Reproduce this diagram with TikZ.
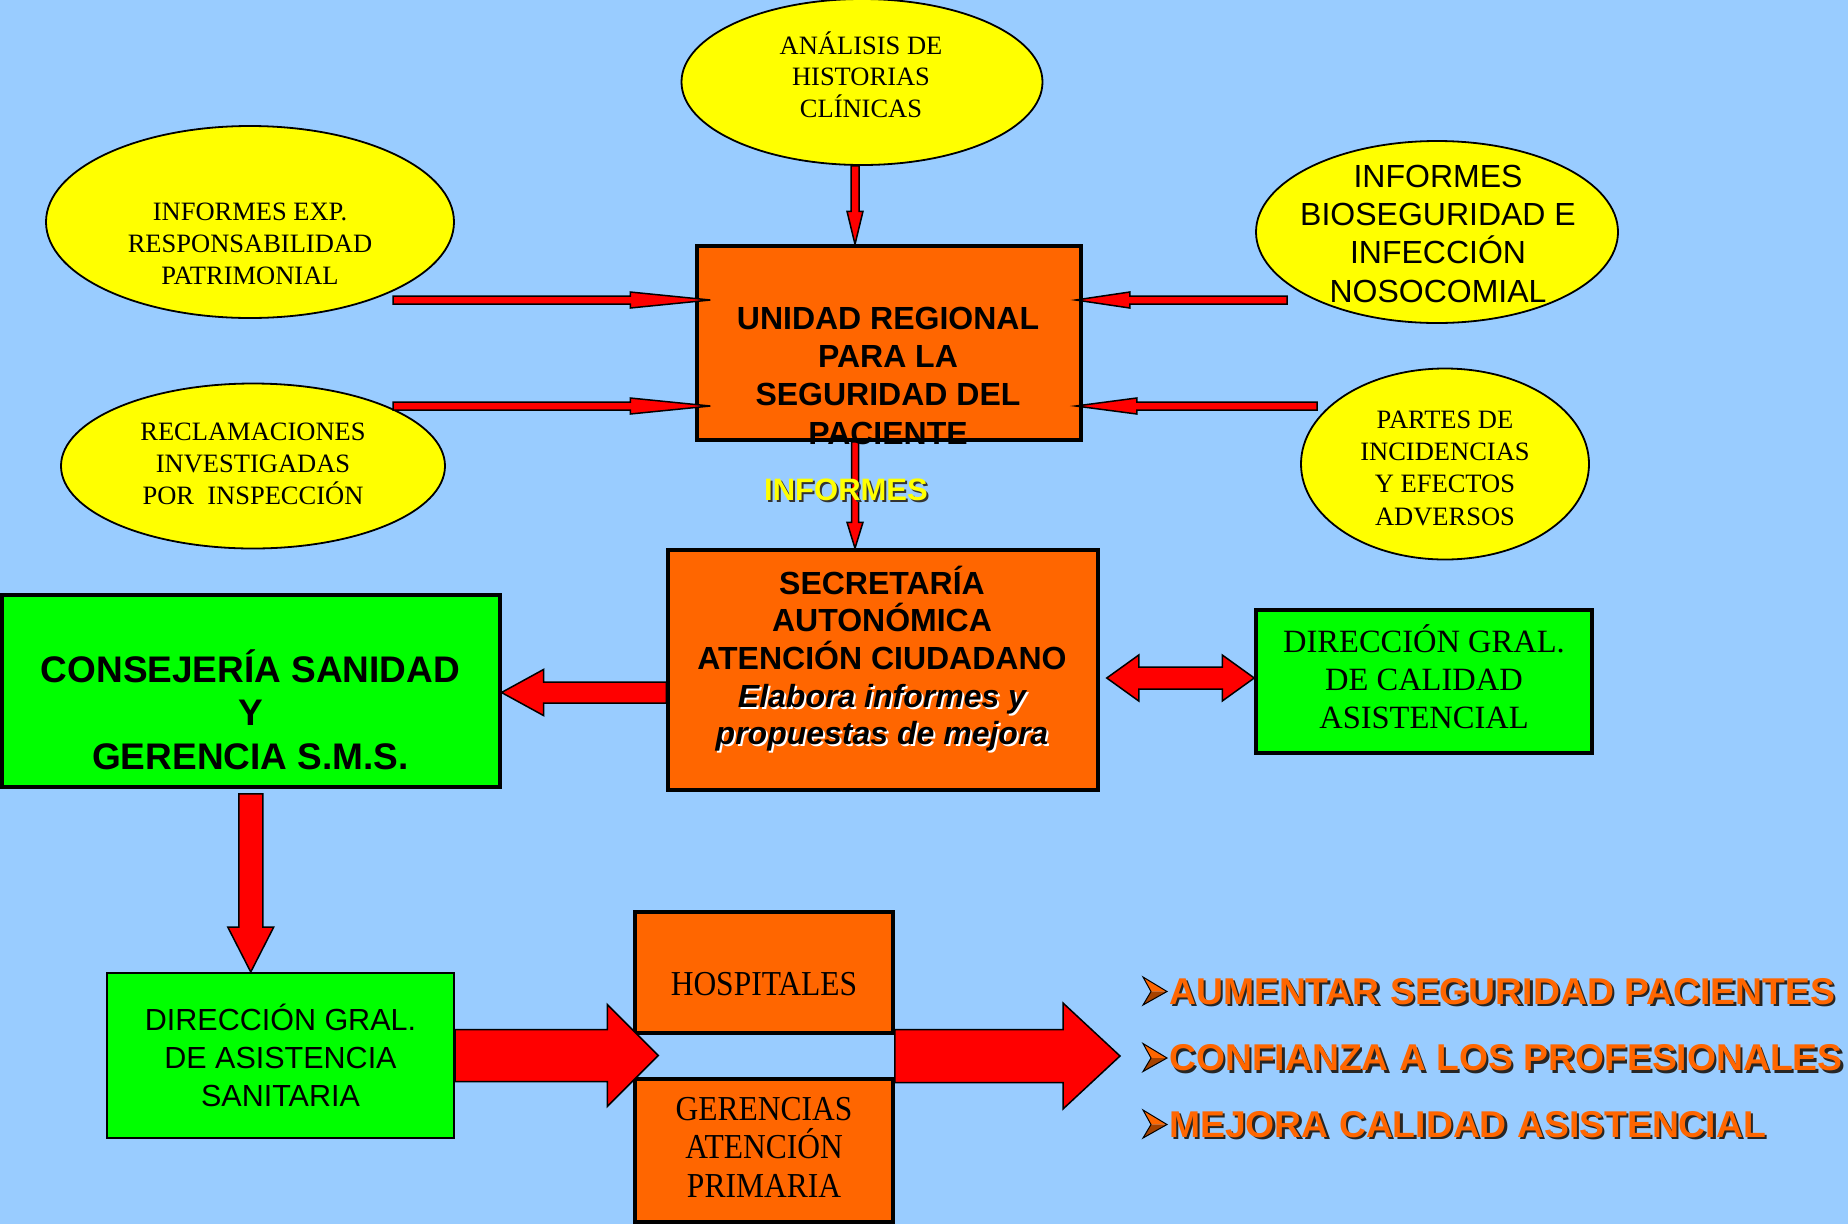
\documentclass[tikz,border=0pt]{standalone}
\usepackage{fontspec}
\setmainfont{Liberation Serif}
\newfontfamily\arial{Liberation Sans}
\newfontfamily\timesn[FakeStretch=0.9]{Liberation Serif}
\usetikzlibrary{calc,shapes.geometric}
\definecolor{bg}{HTML}{99CCFF}
\definecolor{ylw}{HTML}{FFFF00}
\definecolor{org}{HTML}{FF6600}
\definecolor{grn}{HTML}{00FF00}
\definecolor{rd}{HTML}{FF0000}
\newcommand\fsz[2]{\fontsize{#1}{#2}\selectfont}
% block arrow: from, to, shaft half width, head half width, head length
\newcommand\barr[5]{%
  \coordinate (baS) at (#1);
  \coordinate (baE) at (#2);
  \coordinate (baH) at ($(baE)!#5!(baS)$);
  \filldraw[arr] ($(baS)!#3!90:(baE)$) -- ($(baH)!#3!-90:(baS)$) -- ($(baH)!#4!-90:(baS)$) -- (baE)
     -- ($(baH)!#4!90:(baS)$) -- ($(baH)!#3!90:(baS)$) -- ($(baS)!#3!-90:(baE)$) -- cycle;}
% double block arrow: left tip, right tip, shaft half, head half, head length
\newcommand\darr[5]{%
  \coordinate (daL) at (#1);
  \coordinate (daR) at (#2);
  \coordinate (daHL) at ($(daL)!#5!(daR)$);
  \coordinate (daHR) at ($(daR)!#5!(daL)$);
  \filldraw[arr] (daL) -- ($(daHL)!#4!90:(daR)$) -- ($(daHL)!#3!90:(daR)$) -- ($(daHR)!#3!-90:(daL)$)
     -- ($(daHR)!#4!-90:(daL)$) -- (daR) -- ($(daHR)!#4!90:(daL)$) -- ($(daHR)!#3!90:(daL)$)
     -- ($(daHL)!#3!-90:(daR)$) -- ($(daHL)!#4!-90:(daR)$) -- cycle;}
\begin{document}
\begin{tikzpicture}[x=1pt,y=-1pt,
  box/.style={draw=black, line width=3.5pt, inner sep=0pt, rectangle},
  ell/.style={ellipse, draw=black, line width=1.8pt, fill=ylw, inner sep=0pt},
  txt/.style={align=center, inner sep=0pt, anchor=base},
  arr/.style={fill=rd, draw=black, line width=1.5pt, line join=miter},
  bul/.style={anchor=base west, inner sep=0pt, font=\arial\bfseries\fsz{37.3}{37.3}}]
\useasboundingbox (0,0) rectangle (1848,1224);
\fill[bg] (0,0) rectangle (1848,1224);

% ellipses
\node[ell, minimum width=361pt, minimum height=166pt] (e1) at (862,82) {};
\node[ell, minimum width=408pt, minimum height=192pt] (e2) at (250,222) {};
\node[ell, minimum width=384pt, minimum height=165pt] (e3) at (253,466) {};
\node[ell, minimum width=362pt, minimum height=182pt] (e4) at (1437,232) {};
\node[ell, minimum width=288pt, minimum height=191pt] (e5) at (1445,464) {};

% boxes
\node[box, fill=org, minimum width=384pt, minimum height=194pt] (unidad) at (889,343) {};
\node[box, fill=org, minimum width=430pt, minimum height=240pt] (sec) at (883,670) {};
\node[box, fill=grn, minimum width=498pt, minimum height=192pt] (cons) at (250.75,691) {};
\node[box, fill=grn, minimum width=336pt, minimum height=143pt] (dgc) at (1424,681.5) {};
\node[box, fill=grn, line width=2pt, minimum width=347pt, minimum height=165pt] (dga) at (280.5,1055.5) {};
\node[box, fill=org, minimum width=258pt, minimum height=121pt] (hosp) at (764,972.5) {};
\node[box, fill=org, minimum width=258pt, minimum height=143pt] (ger) at (764,1150.5) {};

% arrows
\barr{[xshift=-7pt]e1.south}{[xshift=-34pt]unidad.north}{4pt}{8pt}{33pt}
\coordinate (l1) at (393,300);
\coordinate (l2) at (393,406);
\coordinate (r1) at (1287,300);
\coordinate (r2) at (1317,406);
\barr{l1}{$(unidad.west|-l1)+(15,0)$}{4pt}{8pt}{80pt}
\barr{l2}{$(unidad.west|-l2)+(15,0)$}{4pt}{8pt}{80pt}
\barr{r1}{$(unidad.east|-r1)+(-7,0)$}{4pt}{8pt}{54pt}
\barr{r2}{$(unidad.east|-r2)+(-7,0)$}{4pt}{8pt}{61pt}
\barr{[xshift=-34pt]unidad.south}{[xshift=-28pt]sec.north}{3.5pt}{8pt}{26pt}
\barr{$(sec.west)+(0,22.5)$}{$(cons.east|-sec.west)+(0,22.5)$}{10.5pt}{23pt}{42pt}
\barr{$(cons.south)+(0,5)$}{dga.north-|cons.south}{12pt}{23pt}{45pt}
\barr{dga.east}{$(hosp.west|-dga.east)+(25,0)$}{26pt}{51pt}{51pt}
\coordinate (goal) at (1120,1056);
\barr{hosp.east|-goal}{goal}{26.5pt}{53pt}{57pt}
\coordinate (dL) at ($(sec.east)+(7,8)$);
\coordinate (dR) at (dgc.west|-dL);
\darr{dL}{dR}{11pt}{23pt}{32pt}

% texts (anchor base = baseline of the last line)
\node[txt, font=\fsz{26.5}{31.5}] (t1) at (861,117) {ANÁLISIS DE\\HISTORIAS\\CLÍNICAS};
\node[txt, font=\fsz{26.5}{31.8}] (t2) at (250,284) {INFORMES EXP.\\RESPONSABILIDAD\\PATRIMONIAL};
\node[txt, font=\fsz{26.5}{32}] (t3) at (253,504) {RECLAMACIONES\\INVESTIGADAS\\POR\ \ INSPECCIÓN};
\node[txt, font=\arial\fsz{32}{38.3}] (t4) at (1438,302) {INFORMES\\BIOSEGURIDAD E\\INFECCIÓN\\NOSOCOMIAL};
\node[txt, font=\fsz{26.5}{32.2}] (t5) at (1445,525) {PARTES DE\\INCIDENCIAS\\Y EFECTOS\\ADVERSOS};
\node[txt, font=\arial\bfseries\fsz{32}{38.3}] (t6) at (888,444) {UNIDAD REGIONAL\\PARA LA\\SEGURIDAD DEL\\PACIENTE};
\node[txt, font=\arial\bfseries\fsz{31}{31}, text=black!80] (t7s) at (848,502) {INFORMES};
\node[txt, font=\arial\bfseries\fsz{31}{31}, text=ylw] (t7) at (846,500) {INFORMES};
\node[txt, font=\arial\bfseries\fsz{32}{37.8}] (t8a) at (882,669.6) {SECRETARÍA\\AUTONÓMICA\\ATENCIÓN CIUDADANO};
\node[txt, font=\arial\bfseries\itshape\fsz{32}{37.8}, text=white] (t8s) at (884,746.8) {Elabora informes y\\propuestas de mejora};
\node[txt, font=\arial\bfseries\itshape\fsz{32}{37.8}] (t8b) at (882,744.8) {Elabora informes y\\propuestas de mejora};
\node[txt, font=\arial\bfseries\fsz{37}{43.5}] (t9) at (250.5,769) {CONSEJERÍA SANIDAD\\Y\\GERENCIA S.M.S.};
\node[txt, font=\fsz{32.5}{38}] (t10) at (1424,728) {DIRECCIÓN GRAL.\\DE CALIDAD\\ASISTENCIAL};
\node[txt, font=\arial\fsz{30.5}{38}] (t11) at (280.5,1106) {DIRECCIÓN GRAL.\\DE ASISTENCIA\\SANITARIA};
\node[txt, font=\timesn\fsz{35}{38.5}] (t12) at (764,995) {HOSPITALES};
\node[txt, font=\timesn\fsz{35}{38.5}] (t13) at (764,1197) {GERENCIAS\\ATENCIÓN\\PRIMARIA};

% bullet list
\foreach \i/\yy/\tt in {1/1004/AUMENTAR SEGURIDAD PACIENTES,
                        2/1070.5/CONFIANZA A LOS PROFESIONALES,
                        3/1137/MEJORA CALIDAD ASISTENCIAL} {
  \fill[org] (1143,\yy-27) -- (1167,\yy-12.5) -- (1151,\yy-12.5) -- cycle;
  \fill[org!65!black] (1151,\yy-12.5) -- (1167,\yy-12.5) -- (1143,\yy+1) -- cycle;
  \draw[black, line width=1pt, line join=miter] (1143,\yy-27) -- (1167,\yy-12.5) -- (1143,\yy+1) -- (1151,\yy-12.5) -- cycle;
  \node[bul, text=black!85] (bs\i) at (1171.5,\yy+2.5) {\tt};
  \node[bul, text=org] (b\i) at (1169,\yy) {\tt};
}
\end{tikzpicture}
\end{document}
